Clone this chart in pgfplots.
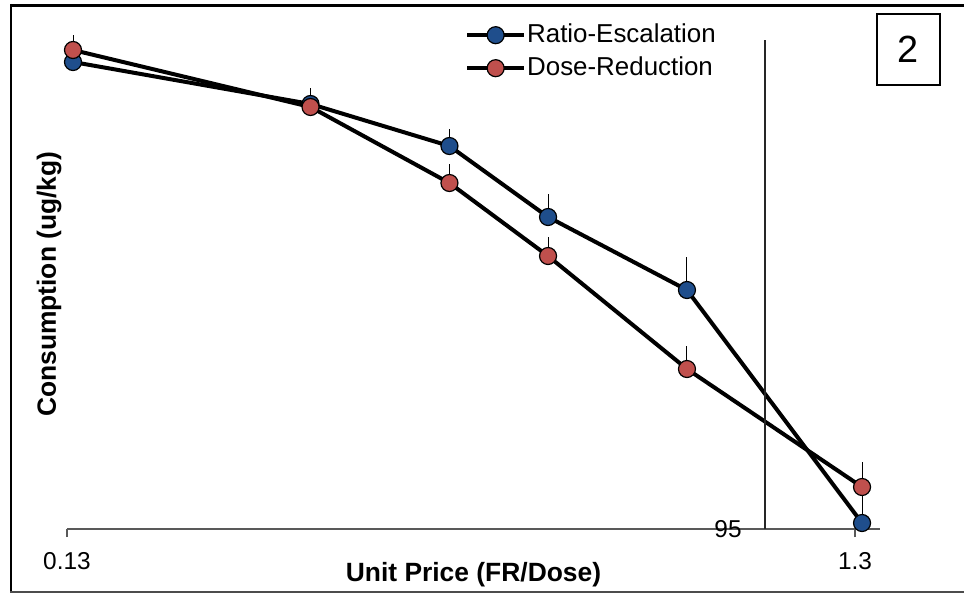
\documentclass[border=0pt]{standalone}
\usepackage{pgfplots}
\pgfplotsset{compat=1.18}
\usepackage{fontspec}
\setmainfont{Liberation Sans}
\definecolor{serblue}{HTML}{1F4E8C}
\definecolor{serred}{HTML}{C0504D}
\pgfplotstableread{
x y e
0.13 467 12
0.26 425 16
0.39 383 17
0.52 312 23
0.78 239 33
1.3 6 36
}\blue
\pgfplotstableread{
x y e
0.13 479 15
0.26 422 10
0.39 346 19
0.52 273 19
0.78 160 23
1.3 42 25
}\red
\begin{document}
\begin{tikzpicture}[x=1bp,y=1bp]
\useasboundingbox (0,0) rectangle (964,-593);
\draw[line width=3bp] (964,-5.5) -- (10,-5.5);
\draw[line width=2bp] (11,-4) -- (11,-592);
\draw[line width=1.5bp, black!70] (10,-592.2) -- (964,-592.2);
\node[draw, line width=1.5bp, minimum width=63bp, minimum height=71bp, inner sep=0pt, font=\fontsize{38}{44}\selectfont] at (908.5,-49.5) {2};
\begin{axis}[
  at={(67bp,-529bp)}, anchor=south west,
  scale only axis, width=813bp, height=509bp,
  xmode=log, xmin=0.12774, xmax=1.37, ymin=0, ymax=509,
  clip=false,
  axis x line*=bottom, axis y line=none,
  x axis line style={color=black!65, line width=1.5bp},
  xtick={0.12774,1.2737}, xticklabels={0.13,1.3},
  minor xtick={},
  tick align=outside, major tick length=8bp,
  tick style={color=black!65, line width=1.3bp},
  xticklabel style={font=\fontsize{24.5}{29}\selectfont, inner sep=0pt, text height=17.5bp, text depth=0pt, anchor=north, yshift=-15bp},
  legend style={at={(0.4895,0.9961)}, anchor=north west, draw=none, fill=none,
    font=\fontsize{26}{31}\selectfont, inner sep=0pt, row sep=7bp,
    nodes={inner sep=1bp, text height=19bp, text depth=5bp},
    /tikz/every even column/.append style={column sep=0bp}},
  legend cell align=left,
  legend image code/.code={\draw[mark repeat=2,mark phase=2,#1] plot coordinates {(0bp,0bp)(28.5bp,0bp)(57bp,0bp)};},
]
\addplot[black, line width=4bp, mark=*, mark options={fill=serblue, draw=black, line width=1.2bp}, mark size=8.5bp,
  error bars/.cd, y dir=plus, y explicit, error bar style={line width=1bp, black}, error mark=none]
  table[x=x, y=y, y error=e] {\blue};
\addlegendentry{Ratio-Escalation}
\addplot[black, line width=4bp, mark=*, mark options={fill=serred, draw=black, line width=1.2bp}, mark size=8.5bp,
  error bars/.cd, y dir=plus, y explicit, error bar style={line width=1bp, black}, error mark=none]
  table[x=x, y=y, y error=e] {\red};
\addlegendentry{Dose-Reduction}
\addplot[black!85, line width=1.2bp, forget plot] coordinates {(0.9796,0) (0.9796,489)};
\node[font=\fontsize{24.5}{29}\selectfont] at (axis cs:0.8793,0) {95};
\node[font=\bfseries\fontsize{26.5}{31}\selectfont] at (axis description cs:0.5,-0.0904) {Unit Price (FR/Dose)};
\node[font=\bfseries\fontsize{26.5}{31}\selectfont, rotate=90] at (axis description cs:-0.0221,0.481) {Consumption (ug/kg)};
\end{axis}
\end{tikzpicture}
\end{document}
